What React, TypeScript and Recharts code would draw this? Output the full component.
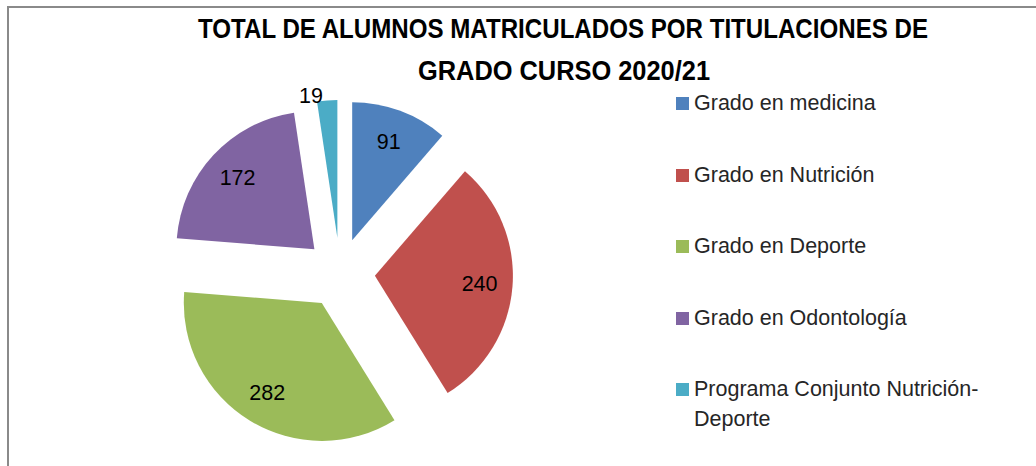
import { Cell, Legend, Pie, PieChart, Sector } from "recharts";

const categories = [
  "Grado en medicina",
  "Grado en Nutrición",
  "Grado en Deporte",
  "Grado en Odontología",
  "Programa Conjunto Nutrición-Deporte",
];
const students = [91, 240, 282, 172, 19];
const sliceColors = ["#4F81BD", "#C0504D", "#9BBB59", "#8064A2", "#4BACC6"];
const titleLines = ["TOTAL DE ALUMNOS MATRICULADOS POR TITULACIONES DE", "GRADO CURSO 2020/21"];

const data = categories.map((name, i) => ({ name, value: students[i] }));

const RADIAN = Math.PI / 180;
const EXPLODE = 35;
const FONT = '"Liberation Sans", Arial, sans-serif';

function ExplodedSlice(props: any) {
  const { cx, cy, midAngle } = props;
  const dx = EXPLODE * Math.cos(-midAngle * RADIAN);
  const dy = EXPLODE * Math.sin(-midAngle * RADIAN);
  return <Sector {...props} cx={cx + dx} cy={cy + dy} stroke="none" />;
}

function SliceLabel(props: any) {
  const { cx, cy, midAngle, percent, value } = props;
  const outside = percent < 0.05;
  const r = EXPLODE + (outside ? 142 : 105);
  const x = cx + r * Math.cos(-midAngle * RADIAN) - (outside ? 4 : 0);
  const y = cy + r * Math.sin(-midAngle * RADIAN);
  return (
    <text
      x={x}
      y={y}
      fill="#000"
      fontFamily={FONT}
      fontSize={21.5}
      textAnchor={outside ? "end" : "middle"}
      dominantBaseline="central"
    >
      {value}
    </text>
  );
}

function LegendList({ payload }: any) {
  const items = [...(payload ?? [])].sort(
    (a: any, b: any) => categories.indexOf(a.value) - categories.indexOf(b.value)
  );
  return (
    <div style={{ fontFamily: FONT, fontSize: 21.5, lineHeight: "30px", color: "#262626" }}>
      {items.map((item: any, i: number) => (
        <div key={item.value} style={{ display: "flex", alignItems: "flex-start", marginTop: i === 0 ? 0 : 41.5 }}>
          <span
            style={{
              width: 13,
              height: 13,
              marginTop: 9,
              marginRight: 5,
              flex: "none",
              background: item.color,
            }}
          />
          <span style={{ maxWidth: 300 }}>{item.value}</span>
        </div>
      ))}
    </div>
  );
}

export default function App() {
  return (
    <div style={{ position: "absolute", left: 0, top: 0, width: 1036, height: 466, background: "#fff" }}>
      <div
        style={{
          position: "absolute",
          left: 7,
          top: 6,
          width: 1029,
          height: 460,
          borderTop: "2px solid #8a8a8a",
          borderLeft: "2px solid #8a8a8a",
          boxSizing: "border-box",
        }}
      />
      <svg width={1036} height={90} style={{ position: "absolute", left: 0, top: 0 }}>
        <text
          x={563}
          y={38}
          textAnchor="middle"
          fontFamily={FONT}
          fontWeight="bold"
          fontSize={27}
          textLength={730}
          lengthAdjust="spacingAndGlyphs"
          fill="#000"
        >
          {titleLines[0]}
        </text>
        <text
          x={564}
          y={80}
          textAnchor="middle"
          fontFamily={FONT}
          fontWeight="bold"
          fontSize={27}
          textLength={292}
          lengthAdjust="spacingAndGlyphs"
          fill="#000"
        >
          {titleLines[1]}
        </text>
      </svg>
      <div style={{ position: "absolute", left: 0, top: 0 }}>
        <PieChart width={1036} height={466} margin={{ top: 0, right: 0, bottom: 0, left: 0 }}>
          <Pie
            data={data}
            dataKey="value"
            nameKey="name"
            cx={340}
            cy={273}
            outerRadius={138}
            startAngle={90}
            endAngle={-270}
            stroke="none"
            shape={ExplodedSlice}
            label={SliceLabel}
            labelLine={false}
            isAnimationActive={false}
          >
            {data.map((entry, i) => (
              <Cell key={entry.name} fill={sliceColors[i]} />
            ))}
          </Pie>
          <Legend
            layout="vertical"
            align="right"
            verticalAlign="top"
            content={<LegendList />}
            wrapperStyle={{ left: 676, top: 88, width: 340, right: "auto", bottom: "auto" }}
          />
        </PieChart>
      </div>
    </div>
  );
}
